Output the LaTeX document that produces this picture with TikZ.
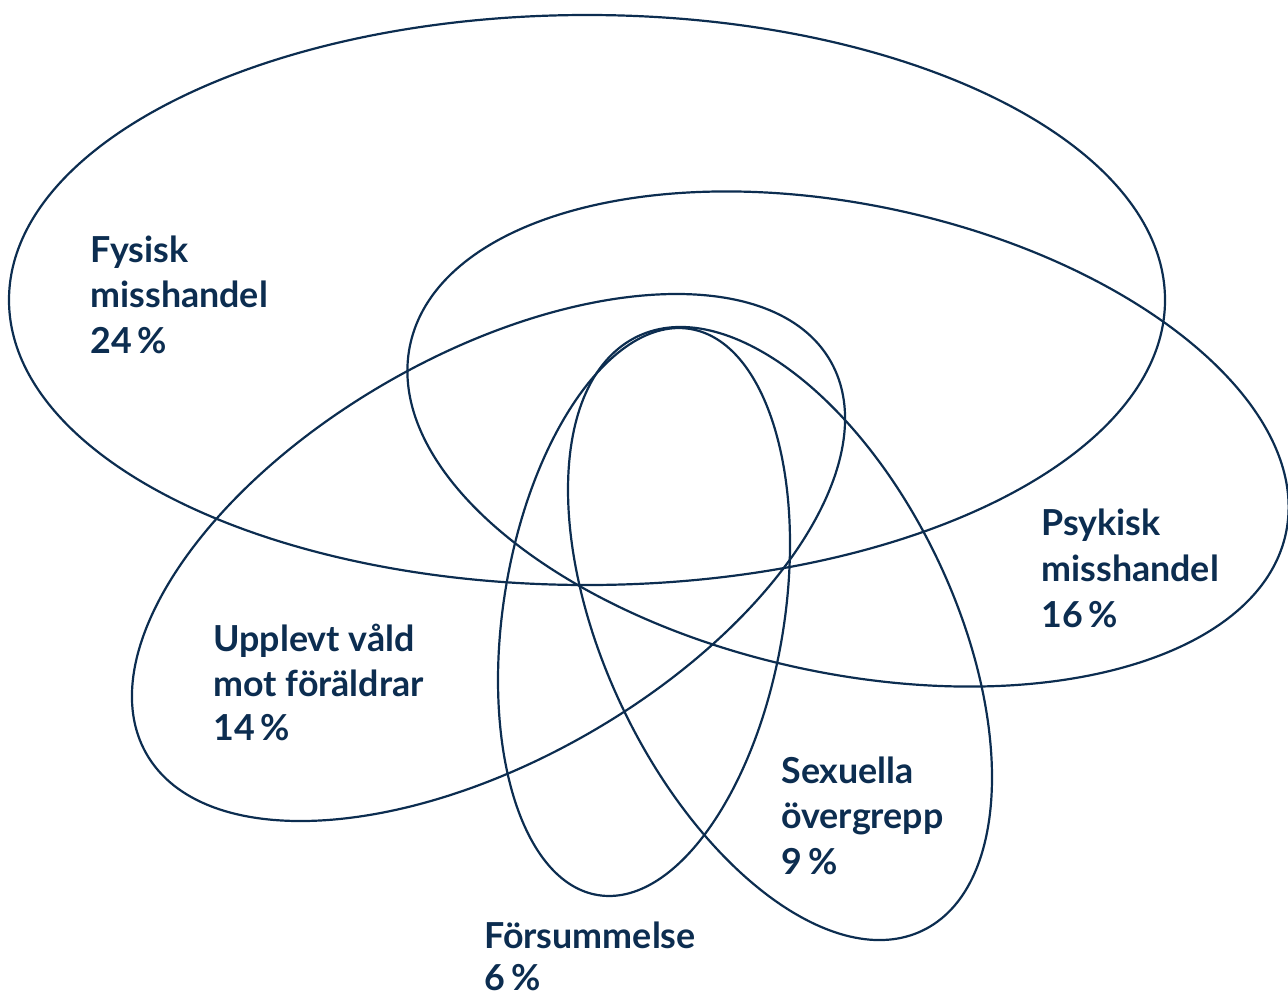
\documentclass[tikz,border=0pt]{standalone}
\usepackage{fontspec}
\setmainfont{Lato}
\definecolor{navy}{RGB}{12,45,80}
\begin{document}
\begin{tikzpicture}[x=0.5pt,y=-0.5pt,
  ring/.style={draw=navy,line width=1.1pt},
  lbl/.style={anchor=base west,inner sep=0pt,text=navy,font=\fontsize{17.9}{22}\selectfont\bfseries}]
\useasboundingbox (0,0) rectangle (1288,996);
% ellipses
\draw[ring] (587,300) ellipse (578 and 285);
\draw[ring,rotate around={-12.19:(848,439)}] (848,439) ellipse (447.9 and 234);
\draw[ring,rotate around={29.9:(488.5,557.5)}] (488.5,557.5) ellipse (394.4 and 202.4);
\draw[ring,rotate around={80.74:(644,612)}] (644,612) ellipse (286.8 and 140.3);
\draw[ring,rotate around={-64.38:(780,633.5)}] (780,633.5) ellipse (329.5 and 174.1);
% labels
\node[lbl] (f1) at (90,262) {Fysisk};
\node[lbl] (f2) at (90,307.5) {misshandel};
\node[lbl] (f3) at (90,353) {24\,\%};
\node[lbl] (p1) at (1041,535) {Psykisk};
\node[lbl] (p2) at (1041,581) {misshandel};
\node[lbl] (p3) at (1041,627) {16\,\%};
\node[lbl] (u1) at (213,651) {Upplevt våld};
\node[lbl] (u2) at (213,696) {mot föräldrar};
\node[lbl] (u3) at (213,740) {14\,\%};
\node[lbl] (s1) at (781,783) {Sexuella};
\node[lbl] (s2) at (781,828) {övergrepp};
\node[lbl] (s3) at (781,874) {9\,\%};
\node[lbl] (r1) at (484,948) {Försummelse};
\node[lbl] (r2) at (484,990) {6\,\%};
\end{tikzpicture}
\end{document}
